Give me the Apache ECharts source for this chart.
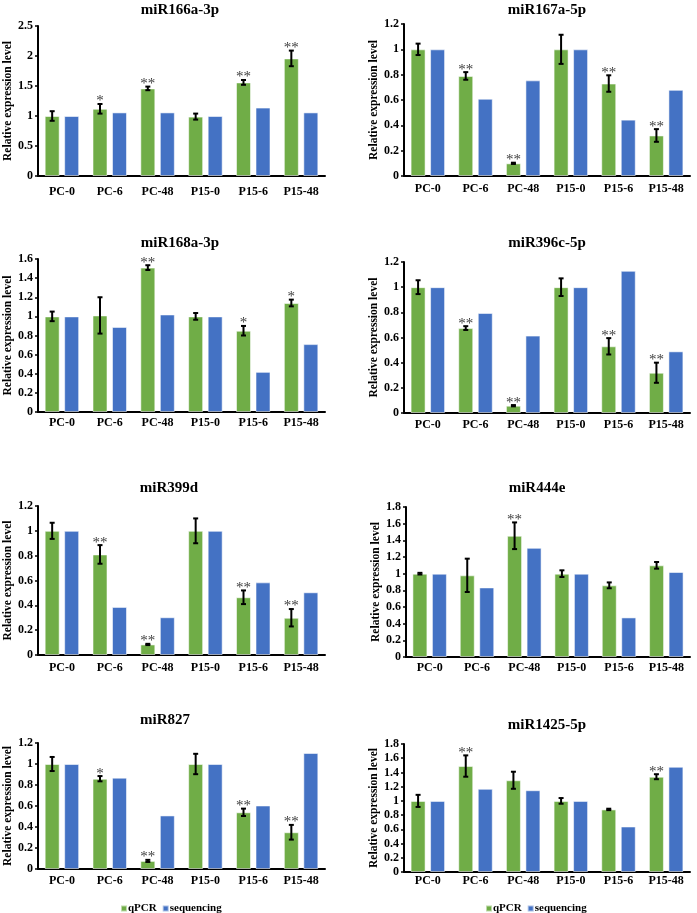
<!DOCTYPE html>
<html><head><meta charset="utf-8">
<script src="https://cdn.jsdelivr.net/npm/echarts@6/dist/echarts.min.js"></script>
<style>html,body{margin:0;padding:0;background:#fff}#c{width:697px;height:913px}</style>
</head><body><div id="c"></div>
<script>
// ---------- DATA ----------
const categories = ['PC-0', 'PC-6', 'PC-48', 'P15-0', 'P15-6', 'P15-48'];
const titles = ['miR166a-3p', 'miR167a-5p', 'miR168a-3p', 'miR396c-5p', 'miR399d', 'miR444e', 'miR827', 'miR1425-5p'];
const seriesNames = ['qPCR', 'sequencing'];

const miR166a_qpcr = [1.00, 1.12, 1.46, 0.99, 1.56, 1.96];
const miR166a_err  = [0.08, 0.08, 0.03, 0.05, 0.04, 0.13];
const miR166a_seq  = [1.00, 1.06, 1.06, 1.00, 1.14, 1.06];
const miR166a_sig  = ['', '*', '**', '', '**', '**'];

const miR167a_qpcr = [1.00, 0.79, 0.10, 1.00, 0.73, 0.32];
const miR167a_err  = [0.045, 0.03, 0.005, 0.115, 0.065, 0.05];
const miR167a_seq  = [1.00, 0.61, 0.755, 1.00, 0.445, 0.68];
const miR167a_sig  = ['', '**', '**', '', '**', '**'];

const miR168a_qpcr = [1.00, 1.01, 1.51, 1.00, 0.85, 1.14];
const miR168a_err  = [0.05, 0.19, 0.025, 0.035, 0.05, 0.035];
const miR168a_seq  = [1.00, 0.89, 1.02, 1.00, 0.42, 0.71];
const miR168a_sig  = ['', '', '**', '', '*', '*'];

const miR396c_qpcr = [1.00, 0.675, 0.058, 1.00, 0.53, 0.32];
const miR396c_err  = [0.055, 0.015, 0.005, 0.07, 0.065, 0.08];
const miR396c_seq  = [1.00, 0.795, 0.615, 1.00, 1.13, 0.49];
const miR396c_sig  = ['', '**', '**', '', '**', '**'];

const miR399d_qpcr = [1.00, 0.81, 0.085, 1.00, 0.465, 0.30];
const miR399d_err  = [0.065, 0.075, 0.005, 0.10, 0.055, 0.07];
const miR399d_seq  = [1.00, 0.387, 0.304, 1.00, 0.585, 0.505];
const miR399d_sig  = ['', '**', '**', '', '**', '**'];

const miR444e_qpcr = [1.00, 0.98, 1.455, 1.00, 0.86, 1.10];
const miR444e_err  = [0.01, 0.20, 0.16, 0.04, 0.035, 0.04];
const miR444e_seq  = [1.00, 0.835, 1.31, 1.00, 0.475, 1.02];
const miR444e_sig  = ['', '', '**', '', '', ''];

const miR827_qpcr = [1.00, 0.86, 0.077, 1.00, 0.54, 0.35];
const miR827_err  = [0.067, 0.025, 0.01, 0.097, 0.035, 0.07];
const miR827_seq  = [1.00, 0.87, 0.51, 1.00, 0.605, 1.105];
const miR827_sig  = ['', '*', '**', '', '**', '**'];

const miR1425_qpcr = [1.00, 1.49, 1.29, 1.00, 0.88, 1.34];
const miR1425_err  = [0.085, 0.15, 0.12, 0.04, 0.01, 0.035];
const miR1425_seq  = [1.00, 1.17, 1.15, 1.00, 0.64, 1.48];
const miR1425_sig  = ['', '**', '', '', '', '**'];

const yMaxes = [2.5, 1.2, 1.6, 1.2, 1.2, 1.8, 1.2, 1.8];
const yIntervals = [0.5, 0.2, 0.2, 0.2, 0.2, 0.2, 0.2, 0.2];

const qpcrSets = [miR166a_qpcr, miR167a_qpcr, miR168a_qpcr, miR396c_qpcr, miR399d_qpcr, miR444e_qpcr, miR827_qpcr, miR1425_qpcr];
const errSets  = [miR166a_err, miR167a_err, miR168a_err, miR396c_err, miR399d_err, miR444e_err, miR827_err, miR1425_err];
const seqSets  = [miR166a_seq, miR167a_seq, miR168a_seq, miR396c_seq, miR399d_seq, miR444e_seq, miR827_seq, miR1425_seq];
const sigSets  = [miR166a_sig, miR167a_sig, miR168a_sig, miR396c_sig, miR399d_sig, miR444e_sig, miR827_sig, miR1425_sig];

// ---------- LAYOUT (pixels) ----------
const panels = [
  {left: 38,  top: 26,  width: 287, height: 150, tx: 180, ty: 10,  lm: 10},
  {left: 404, top: 24,  width: 286, height: 152, tx: 547, ty: 10,  lm: 7},
  {left: 38,  top: 259, width: 287, height: 153, tx: 180, ty: 243, lm: 5},
  {left: 404, top: 262, width: 286, height: 151, tx: 547, ty: 243, lm: 6},
  {left: 38,  top: 506, width: 287, height: 149, tx: 169, ty: 488, lm: 7},
  {left: 406, top: 507, width: 284, height: 150, tx: 537, ty: 488, lm: 5},
  {left: 38,  top: 743, width: 287, height: 126, tx: 165, ty: 720, lm: 6},
  {left: 404, top: 744, width: 286, height: 128, tx: 547, ty: 725, lm: 3}
];

const FONT = '"Liberation Serif", "Times New Roman", serif';
const GREEN = '#70AD47', BLUE = '#4472C4';
const BAR_W = 15, GAP_RATIO = 0.3;
const GREEN_OFFSET = -(BAR_W + BAR_W * GAP_RATIO) / 2;

const grid = [], xAxis = [], yAxis = [], series = [], graphic = [];
panels.forEach((p, k) => {
  grid.push({left: p.left, top: p.top, width: p.width, height: p.height, containLabel: false});
  xAxis.push({
    type: 'category', gridIndex: k, data: categories,
    axisLine: {lineStyle: {color: '#000', width: 2}},
    axisTick: {show: false},
    axisLabel: {color: '#000', fontFamily: FONT, fontWeight: 'bold', fontSize: 12, margin: p.lm, interval: 0}
  });
  yAxis.push({
    type: 'value', gridIndex: k, min: 0, max: yMaxes[k], interval: yIntervals[k],
    name: 'Relative expression level', nameLocation: 'middle', nameGap: 24,
    nameTextStyle: {color: '#000', fontFamily: FONT, fontWeight: 'bold', fontSize: 11.5},
    axisLine: {show: true, lineStyle: {color: '#000', width: 2}},
    axisTick: {show: true, length: 3, lineStyle: {color: '#000', width: 1.5}},
    splitLine: {show: false},
    axisLabel: {color: '#000', fontFamily: FONT, fontWeight: 'bold', fontSize: 12, margin: 5}
  });
  series.push({
    name: seriesNames[0], type: 'bar', xAxisIndex: k, yAxisIndex: k,
    data: qpcrSets[k], barWidth: BAR_W, barGap: (GAP_RATIO * 100) + '%',
    itemStyle: {color: GREEN, borderColor: 'rgba(255,255,255,0.55)', borderWidth: 1}
  });
  series.push({
    name: seriesNames[1], type: 'bar', xAxisIndex: k, yAxisIndex: k,
    data: seqSets[k], barWidth: BAR_W, barGap: (GAP_RATIO * 100) + '%',
    itemStyle: {color: BLUE, borderColor: 'rgba(255,255,255,0.55)', borderWidth: 1}
  });
  const sig = sigSets[k];
  series.push({
    type: 'custom', xAxisIndex: k, yAxisIndex: k, z: 10,
    data: qpcrSets[k].map((v, i) => [i, v, errSets[k][i]]),
    renderItem: (params, api) => {
      const i = params.dataIndex;
      const v = api.value(1), e = api.value(2);
      const top = api.coord([api.value(0), v + e]);
      const bot = api.coord([api.value(0), v - e]);
      const x = top[0] + GREEN_OFFSET;
      const st = {stroke: '#000', lineWidth: 2};
      const children = [
        {type: 'line', shape: {x1: x, y1: top[1], x2: x, y2: bot[1]}, style: st},
        {type: 'line', shape: {x1: x - 2.5, y1: top[1], x2: x + 2.5, y2: top[1]}, style: st},
        {type: 'line', shape: {x1: x - 2.5, y1: bot[1], x2: x + 2.5, y2: bot[1]}, style: st}
      ];
      if (sig[i]) {
        children.push({type: 'text', x: x, y: top[1] + 5, style: {
          text: sig[i], fill: '#404040', fontFamily: FONT, fontSize: 15,
          align: 'center', verticalAlign: 'bottom'
        }});
      }
      return {type: 'group', children};
    }
  });
  graphic.push({type: 'text', x: p.tx, y: p.ty, style: {
    text: titles[k], fill: '#000', fontFamily: FONT, fontWeight: 'bold', fontSize: 15,
    align: 'center', verticalAlign: 'middle', textAlign: 'center', textVerticalAlign: 'middle'
  }});
});

const legendBase = {
  data: seriesNames, icon: 'rect', itemWidth: 6, itemHeight: 6, itemGap: 5, top: 898,
  selectedMode: false,
  textStyle: {color: '#000', fontFamily: FONT, fontWeight: 'bold', fontSize: 11, padding: [0, 0, 0, -4]}
};

const chart = echarts.init(document.getElementById('c'), null, {renderer: 'canvas'});
chart.setOption({
  animation: false,
  backgroundColor: '#fff',
  grid, xAxis, yAxis, series, graphic,
  legend: [Object.assign({left: 115}, legendBase), Object.assign({left: 480}, legendBase)]
});
</script></body></html>
